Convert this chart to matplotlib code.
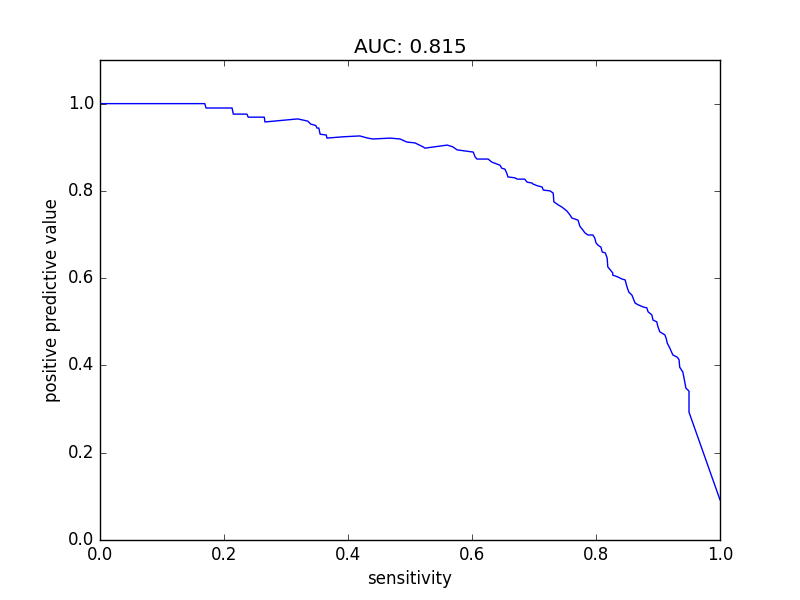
import matplotlib
matplotlib.use('Agg')
import matplotlib.pyplot as plt

# precision-recall style curve
sensitivity = [0.000, 0.169, 0.171, 0.213, 0.215, 0.237, 0.239, 0.265, 0.266, 0.319,
               0.335, 0.340, 0.348, 0.350, 0.353, 0.355, 0.365, 0.366, 0.392, 0.419,
               0.424, 0.432, 0.440, 0.468, 0.484, 0.487, 0.495, 0.508, 0.521, 0.524,
               0.560, 0.569, 0.576, 0.602, 0.605, 0.608, 0.626, 0.632, 0.645, 0.648,
               0.653, 0.656, 0.658, 0.669, 0.673, 0.685, 0.689, 0.697, 0.698, 0.705,
               0.713, 0.715, 0.726, 0.731, 0.732, 0.739, 0.745, 0.753, 0.758, 0.761,
               0.771, 0.774, 0.779, 0.782, 0.787, 0.795, 0.798, 0.800, 0.803, 0.808,
               0.810, 0.815, 0.818, 0.819, 0.823, 0.827, 0.827, 0.835, 0.842, 0.847,
               0.850, 0.853, 0.858, 0.863, 0.868, 0.876, 0.882, 0.884, 0.890, 0.892,
               0.898, 0.900, 0.903, 0.911, 0.913, 0.915, 0.919, 0.924, 0.931, 0.934,
               0.935, 0.940, 0.942, 0.945, 0.948, 0.950, 0.950, 1.000]
ppv = [1.000, 1.000, 0.990, 0.990, 0.976, 0.976, 0.969, 0.969, 0.958, 0.965,
       0.960, 0.953, 0.950, 0.944, 0.944, 0.930, 0.928, 0.921, 0.924, 0.926,
       0.924, 0.921, 0.919, 0.921, 0.919, 0.917, 0.912, 0.910, 0.901, 0.898,
       0.905, 0.901, 0.894, 0.889, 0.878, 0.873, 0.873, 0.866, 0.859, 0.852,
       0.850, 0.841, 0.832, 0.830, 0.827, 0.827, 0.820, 0.818, 0.816, 0.812,
       0.809, 0.802, 0.800, 0.795, 0.775, 0.768, 0.763, 0.754, 0.745, 0.738,
       0.733, 0.719, 0.710, 0.704, 0.699, 0.699, 0.692, 0.681, 0.676, 0.671,
       0.660, 0.658, 0.646, 0.626, 0.619, 0.612, 0.607, 0.603, 0.598, 0.596,
       0.580, 0.568, 0.561, 0.543, 0.539, 0.534, 0.532, 0.523, 0.516, 0.504,
       0.500, 0.488, 0.477, 0.470, 0.463, 0.451, 0.440, 0.424, 0.419, 0.413,
       0.396, 0.385, 0.371, 0.348, 0.344, 0.341, 0.293, 0.092]
auc = 0.815

plt.style.use('classic')
fig, ax = plt.subplots(figsize=(8, 6), dpi=100)
ax.plot(sensitivity, ppv, 'b-')
ax.set_xlim(0, 1)
ax.set_ylim(0, 1.1)
ax.set_xlabel('sensitivity')
ax.set_ylabel('positive predictive value')
ax.set_title('AUC: %.3f' % auc)

fig.savefig('out.png', dpi=100)
